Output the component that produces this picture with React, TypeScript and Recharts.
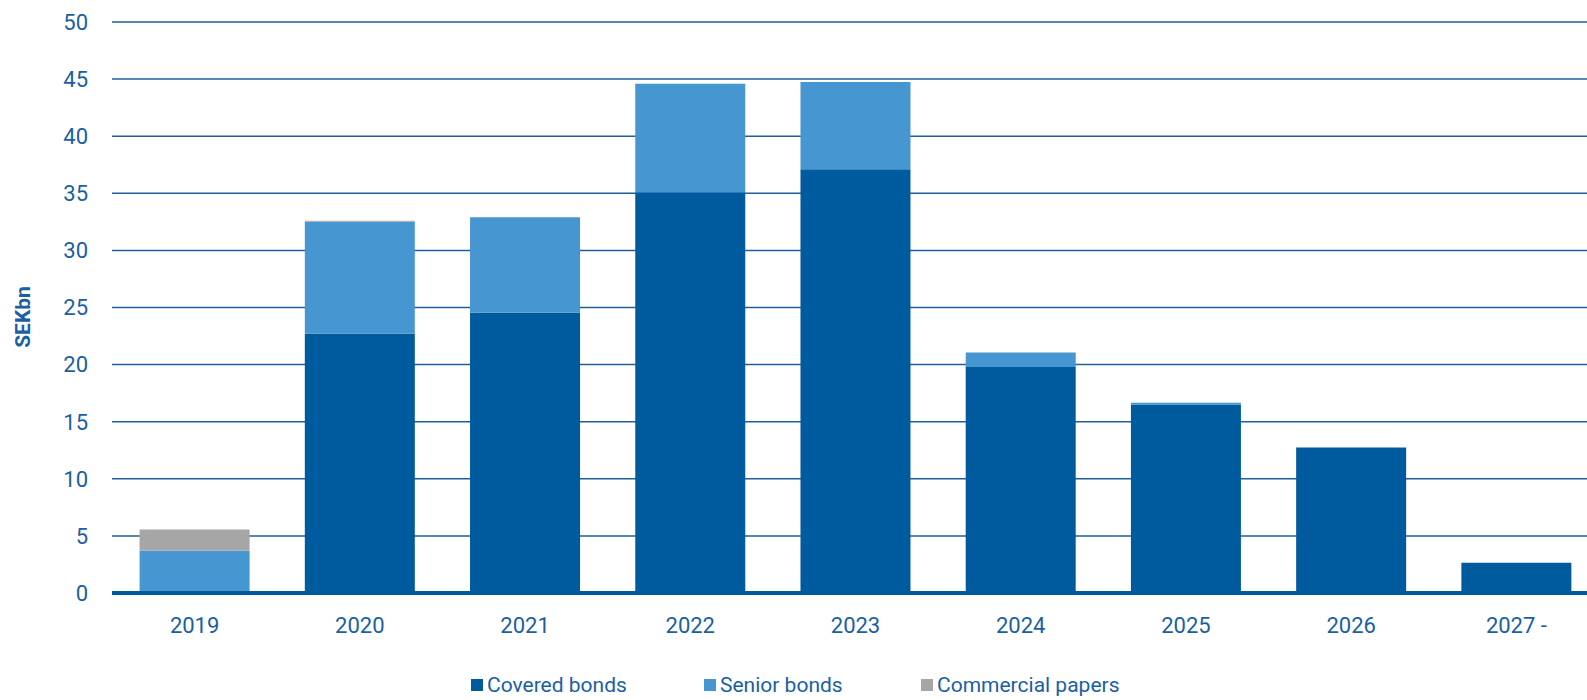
import React from 'react';
import { BarChart, Bar, XAxis, YAxis, CartesianGrid } from 'recharts';

const years = ['2019', '2020', '2021', '2022', '2023', '2024', '2025', '2026', '2027 -'];
const coveredBonds = [0, 22.7, 24.55, 35.1, 37.1, 19.8, 16.5, 12.75, 2.65];
const seniorBonds = [3.7, 9.8, 8.35, 9.5, 7.65, 1.25, 0.15, 0, 0];
const commercialPapers = [1.85, 0.1, 0, 0, 0, 0, 0, 0, 0];
const yTicks = [0, 5, 10, 15, 20, 25, 30, 35, 40, 45, 50];

const series = [
  { key: 'covered', name: 'Covered bonds', color: '#005a9e' },
  { key: 'senior', name: 'Senior bonds', color: '#4696d2' },
  { key: 'commercial', name: 'Commercial papers', color: '#a6a6a6' },
];

const data = years.map((year, i) => ({
  year,
  covered: coveredBonds[i],
  senior: seniorBonds[i],
  commercial: commercialPapers[i],
}));

const FONT = "'Roboto', sans-serif";
const TEXT = '#1a5fa3';

// legend item positions (left edge of the square)
const legendLeft = [471, 704, 921];

const App: React.FC = () => {
  return (
    <div style={{ position: 'relative', width: 1587, height: 700, overflow: 'hidden', background: '#fff', fontFamily: FONT }}>
      <style>{`body { margin: 0; }`}</style>
      <BarChart
        width={1599}
        height={640}
        data={data}
        margin={{ top: 22, right: 0, left: 0, bottom: 0 }}
        barCategoryGap="16.7%"
      >
        <CartesianGrid vertical={false} stroke="#1f5f9f" strokeWidth={1.5} />
        <XAxis
          dataKey="year"
          height={47}
          tickLine={false}
          tickSize={0}
          tickMargin={24}
          axisLine={{ stroke: '#005a9e', strokeWidth: 4 }}
          tick={{ fill: TEXT, fontSize: 22, fontFamily: FONT }}
        />
        <YAxis
          width={112}
          domain={[0, 50]}
          ticks={yTicks}
          interval={0}
          axisLine={false}
          tickLine={false}
          tickSize={0}
          tickMargin={24}
          tick={{ fill: TEXT, fontSize: 22, fontFamily: FONT }}
        />
        {series.map((s) => (
          <Bar key={s.key} dataKey={s.key} name={s.name} stackId="a" fill={s.color} isAnimationActive={false} />
        ))}
      </BarChart>
      <div
        style={{
          position: 'absolute',
          left: 23,
          top: 317,
          transform: 'translate(-50%, -50%) rotate(-90deg)',
          color: TEXT,
          fontWeight: 'bold',
          fontSize: 21,
          whiteSpace: 'nowrap',
        }}
      >
        SEKbn
      </div>
      {series.map((s, i) => (
        <div
          key={s.key}
          style={{
            position: 'absolute',
            left: legendLeft[i],
            top: 672,
            height: 26,
            lineHeight: '26px',
            display: 'flex',
            alignItems: 'center',
            color: TEXT,
            fontSize: 21,
            whiteSpace: 'nowrap',
          }}
        >
          <span style={{ display: 'inline-block', width: 12, height: 12, background: s.color, marginRight: 4 }} />
          {s.name}
        </div>
      ))}
    </div>
  );
};

export default App;
